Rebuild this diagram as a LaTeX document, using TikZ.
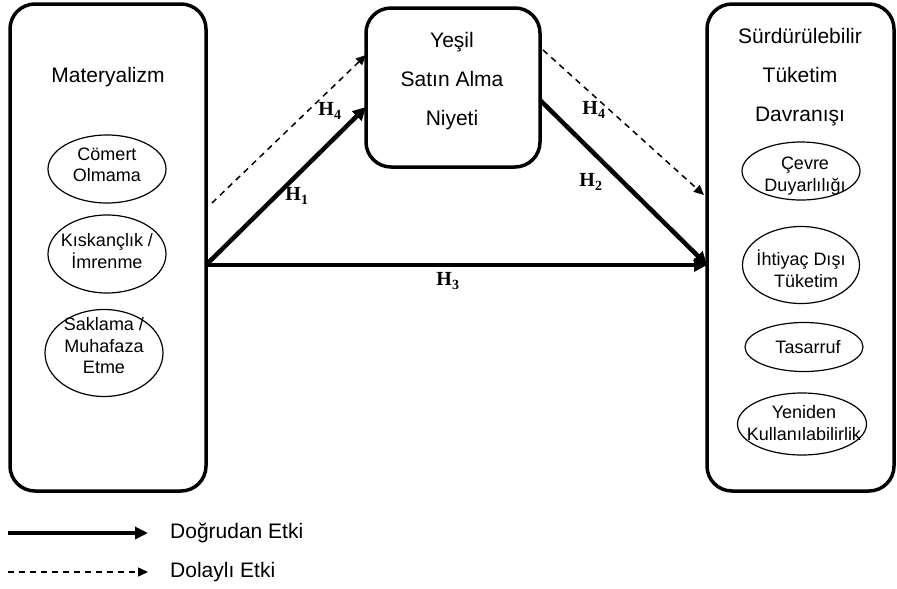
\documentclass[tikz,border=0pt]{standalone}
\usepackage{fontspec}
\setmainfont{Liberation Sans}
\newfontfamily\hfont{Liberation Serif}
\usetikzlibrary{arrows.meta,calc,shapes.geometric}
\tikzset{
  bigbox/.style={draw, line width=3.5pt, rounded corners=25pt, inner sep=0pt, outer sep=0pt},
  maintext/.style={align=center, inner sep=0pt, font=\fontsize{21}{39}\selectfont},
  ell/.style={draw, ellipse, line width=1.2pt, inner sep=0pt, outer sep=0pt},
  elltext/.style={align=center, inner sep=0pt, font=\fontsize{18}{21.5}\selectfont},
  direct/.style={line width=4.5pt, -{Triangle[length=13pt,width=13pt]}},
  indirect/.style={line width=1.5pt, dash pattern=on 6pt off 5pt, -{Triangle[length=10pt,width=9pt]}},
  hlab/.style={inner sep=0pt, font=\hfont\bfseries\fontsize{20}{24}\selectfont},
  legtext/.style={anchor=west, inner sep=0pt, font=\fontsize{21}{25}\selectfont}
}
\begin{document}
\begin{tikzpicture}[x=1pt,y=-1pt]
\useasboundingbox (0,0) rectangle (897,589);
% boxes
\node[bigbox, minimum width=196pt, minimum height=487pt] (L) at (108,247.5) {};
\node[bigbox, minimum width=174pt, minimum height=159pt] (M) at (453,87.5) {};
\node[bigbox, minimum width=187pt, minimum height=487pt] (R) at (800.5,247.5) {};
% box titles
\node[maintext] (Lt) at (108,77) {Materyalizm};
\node[maintext] (Mt) at (452,81) {Yeşil\\Satın Alma\\Niyeti};
\node[maintext] (Rt) at (800,77) {Sürdürülebilir\\Tüketim\\Davranışı};
% left ellipses
\node[ell, minimum width=118pt, minimum height=68pt] (e1) at (107,169) {};
\node[elltext] (e1t) at (107,165) {Cömert\\Olmama};
\node[ell, minimum width=118pt, minimum height=78pt] (e2) at (107,254) {};
\node[elltext] (e2t) at (107,251) {Kıskançlık /\\İmrenme};
\node[ell, minimum width=118pt, minimum height=87pt] (e3) at (104,353) {};
\node[elltext] (e3t) at (104,346) {Saklama /\\Muhafaza\\Etme};
% right ellipses
\node[ell, minimum width=118pt, minimum height=58pt] (f1) at (801,171) {};
\node[elltext] (f1t) at (805,176) {Çevre\\Duyarlılığı};
\node[ell, minimum width=117pt, minimum height=77pt] (f2) at (801,265) {};
\node[elltext] (f2t) at (801,269) {İhtiyaç Dışı\\\hspace*{10pt}Tüketim};
\node[ell, minimum width=118pt, minimum height=49pt] (f3) at (804,347) {};
\node[elltext] (f3t) at (808,347) {Tasarruf};
\node[ell, minimum width=129pt, minimum height=62pt] (f4) at (802,424) {};
\node[elltext] (f4t) at (804,423) {Yeniden\\Kullanılabilirlik};
% connectors
\draw[direct] ([yshift=-17.5pt]L.east) -- ([yshift=-19.5pt]M.west);
\draw[direct] ([yshift=-17.5pt]L.east) -- ([yshift=-17.5pt]R.west);
\draw[direct] ([yshift=-12.5pt]M.east) -- ([yshift=-17.5pt]R.west);
\draw[indirect] ([xshift=6pt,yshift=44.5pt]L.east) -- ([yshift=32.5pt]M.west);
\draw[indirect] ([xshift=3pt,yshift=37.5pt]M.east) -- ([xshift=-3pt,yshift=52.5pt]R.west);
% labels
\node[hlab] (h4a) at (330,111) {H\textsubscript{4}};
\node[hlab] (h1) at (297,196) {H\textsubscript{1}};
\node[hlab] (h4b) at (594,110) {H\textsubscript{4}};
\node[hlab] (h2) at (591,182) {H\textsubscript{2}};
\node[hlab] (h3) at (448,281) {H\textsubscript{3}};
% legend
\coordinate (ls1) at (8,533);
\coordinate (le1) at (148,533);
\coordinate (ls2) at (8,572);
\coordinate (le2) at (148,572);
\draw[direct, line width=3.5pt, -{Triangle[length=13pt,width=12pt]}] (ls1) -- (le1);
\draw[indirect] (ls2) -- (le2);
\node[legtext] (lt1) at (170,533) {Doğrudan Etki};
\node[legtext] (lt2) at (170,572) {Dolaylı Etki};
\end{tikzpicture}
\end{document}
